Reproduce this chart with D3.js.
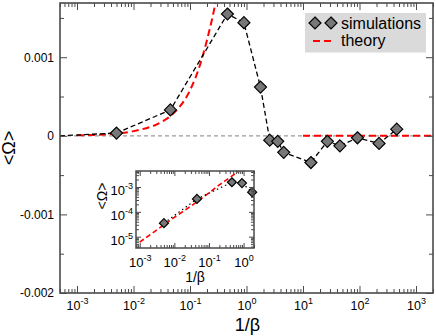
<!DOCTYPE html>
<html>
<head>
<meta charset="utf-8">
<script src="https://cdn.jsdelivr.net/npm/d3@7"></script>
<style>
  body { margin: 0; background: #fff; }
  svg { display: block; font-family: "Liberation Sans", Arial, sans-serif; }
</style>
</head>
<body>
<svg id="vis" width="436" height="336"></svg>
<script>
const width = 436;
const height = 336;

// simulation points: 1/beta and <Omega>
const simX = [0.005, 0.045, 0.46, 0.9, 1.77, 2.58, 3.57, 4.56, 13.8, 27, 45, 92, 222, 456];
const simY = [3.5e-5, 3.3e-4, 1.55e-3, 1.44e-3, 6.2e-4, -5.5e-5, -7e-5, -2.1e-4, -3.4e-4, -7e-5, -1.27e-4, -2.5e-5, -9.7e-5, 8.5e-5];
// the dashed sim curve starts at zero on the left edge
const simStartX = 5e-4;
const simStartY = 0;

// theory, low temperature branch and high temperature branch
const theoryX = [0.001, 0.003, 0.01, 0.03, 0.05, 0.1, 0.15, 0.2, 0.3, 0.5, 0.8];
const theoryY = [6e-6, 1.8e-5, 6e-5, 1.7e-4, 2.8e-4, 5.8e-4, 9e-4, 1.22e-3, 1.8e-3, 3e-3, 4.8e-3];
const theoryTailX = [10, 2000];
const theoryTailY = [0, 0];

// ticks
const xTicks = [1e-3, 1e-2, 1e-1, 1, 10, 100, 1000];
const yTicks = [-0.002, -0.001, 0, 0.001];
const yMinor = [-0.0015, -0.0005, 0.0005, 0.0015];
const insetXTicks = [1e-3, 1e-2, 1e-1, 1];
const insetYTicks = [1e-5, 1e-4, 1e-3];

const font = '"Liberation Sans", Arial, sans-serif';
const frameColor = "#4a4a4a";

const svg = d3.select("#vis");

const plot = { left: 60, right: 433, top: 3, bottom: 293 };
const inset = { left: 136, right: 254, top: 171, bottom: 248 };

const x = d3.scaleLog().domain([5e-4, 2e3]).range([plot.left, plot.right]);
const y = d3.scaleLinear().domain([-0.002, 0.00169]).range([plot.bottom, plot.top]);

const ix = d3.scaleLog().domain([7.8e-4, 2]).range([inset.left, inset.right]);
const iy = d3.scaleLog().domain([3.5e-6, 4.4e-3]).range([inset.bottom, inset.top]);

function logMinors(domain) {
  const out = [];
  for (let e = -7; e <= 4; e++) {
    for (let k = 2; k <= 9; k++) {
      const v = k * Math.pow(10, e);
      if (v >= domain[0] && v <= domain[1]) out.push(v);
    }
  }
  return out;
}

function addAxis(axis, transform, size) {
  const g = svg.append("g")
    .attr("transform", transform)
    .call(axis)
    .attr("font-family", font)
    .attr("font-size", size || 12);
  g.select(".domain").remove();
  g.selectAll("line").attr("stroke", frameColor).attr("stroke-width", 1);
  g.selectAll("text").attr("fill", "#000");
  return g;
}

function powerLabels(g, supSize, supDy) {
  g.selectAll(".tick text").each(function(d) {
    const t = d3.select(this);
    t.text("10");
    t.append("tspan")
      .attr("dy", supDy)
      .attr("font-size", supSize)
      .text(Math.round(Math.log10(d)));
  });
}

// clip paths
const defs = svg.append("defs");
defs.append("clipPath").attr("id", "clipMain").append("rect")
  .attr("x", plot.left).attr("y", plot.top)
  .attr("width", plot.right - plot.left).attr("height", plot.bottom - plot.top);
defs.append("clipPath").attr("id", "clipInset").append("rect")
  .attr("x", inset.left).attr("y", inset.top)
  .attr("width", inset.right - inset.left).attr("height", inset.bottom - inset.top);

// ---- main plot ----
const main = svg.append("g").attr("clip-path", "url(#clipMain)");

main.append("line")
  .attr("x1", plot.left).attr("x2", plot.right)
  .attr("y1", y(0)).attr("y2", y(0))
  .attr("stroke", "#9a9a9a").attr("stroke-width", 1.2)
  .attr("stroke-dasharray", "4,3");

const theoryLine = d3.line().x(d => x(d[0])).y(d => y(d[1])).curve(d3.curveMonotoneX);
main.append("path")
  .datum(d3.zip(theoryX, theoryY))
  .attr("d", theoryLine)
  .attr("fill", "none").attr("stroke", "#f00").attr("stroke-width", 2)
  .attr("stroke-dasharray", "7,4");
main.append("path")
  .datum(d3.zip(theoryTailX, theoryTailY))
  .attr("d", theoryLine)
  .attr("fill", "none").attr("stroke", "#f00").attr("stroke-width", 2)
  .attr("stroke-dasharray", "7,4");

const simLine = d3.line().x(d => x(d[0])).y(d => y(d[1]));
main.append("path")
  .datum([[simStartX, simStartY]].concat(d3.zip(simX, simY)))
  .attr("d", simLine)
  .attr("fill", "none").attr("stroke", "#000").attr("stroke-width", 1.3)
  .attr("stroke-dasharray", "5,3");

function diamond(sel, r) {
  sel.attr("d", `M0,${-r}L${r},0L0,${r}L${-r},0Z`)
    .attr("fill", "#777").attr("stroke", "#000").attr("stroke-width", 1.2);
}

svg.append("g").selectAll("path")
  .data(d3.zip(simX, simY))
  .join("path")
  .attr("transform", d => `translate(${x(d[0])},${y(d[1])})`)
  .call(diamond, 6);

// main axes
const gxb = addAxis(d3.axisBottom(x).tickValues(xTicks).tickSizeInner(-7).tickSizeOuter(0)
  .tickPadding(8.5).tickFormat(() => "10"), `translate(0,${plot.bottom})`, 12.5);
powerLabels(gxb, 9, -6);
addAxis(d3.axisBottom(x).tickValues(logMinors(x.domain())).tickSizeInner(-4).tickSizeOuter(0)
  .tickFormat(""), `translate(0,${plot.bottom})`);
addAxis(d3.axisTop(x).tickValues(xTicks).tickSizeInner(-7).tickSizeOuter(0)
  .tickFormat(""), `translate(0,${plot.top})`);
addAxis(d3.axisTop(x).tickValues(logMinors(x.domain())).tickSizeInner(-4).tickSizeOuter(0)
  .tickFormat(""), `translate(0,${plot.top})`);

addAxis(d3.axisLeft(y).tickValues(yTicks).tickSizeInner(-7).tickSizeOuter(0).tickPadding(6)
  .tickFormat(d => d === 0 ? "0" : String(d)), `translate(${plot.left},0)`);
addAxis(d3.axisLeft(y).tickValues(yMinor).tickSizeInner(-4).tickSizeOuter(0)
  .tickFormat(""), `translate(${plot.left},0)`);
addAxis(d3.axisRight(y).tickValues(yTicks).tickSizeInner(-7).tickSizeOuter(0)
  .tickFormat(""), `translate(${plot.right},0)`);
addAxis(d3.axisRight(y).tickValues(yMinor).tickSizeInner(-4).tickSizeOuter(0)
  .tickFormat(""), `translate(${plot.right},0)`);

svg.append("rect")
  .attr("x", plot.left).attr("y", plot.top)
  .attr("width", plot.right - plot.left).attr("height", plot.bottom - plot.top)
  .attr("fill", "none").attr("stroke", frameColor).attr("stroke-width", 1.6);

svg.append("text")
  .attr("x", (plot.left + plot.right) / 2 + 1).attr("y", 331)
  .attr("text-anchor", "middle").attr("font-size", 18)
  .text("1/β");

svg.append("text")
  .attr("transform", "translate(15,148) rotate(-90)")
  .attr("text-anchor", "middle").attr("font-size", 18)
  .text("<Ω>");

// ---- legend ----
const legend = svg.append("g");
legend.append("rect")
  .attr("x", 305).attr("y", 13).attr("width", 121).attr("height", 39.5)
  .attr("fill", "#dadada");
legend.selectAll("path.sym")
  .data([315, 331])
  .join("path")
  .attr("class", "sym")
  .attr("transform", d => `translate(${d},23)`)
  .call(diamond, 6);
legend.append("line")
  .attr("x1", 313).attr("x2", 333).attr("y1", 41).attr("y2", 41)
  .attr("stroke", "#f00").attr("stroke-width", 2).attr("stroke-dasharray", "7,4");
legend.append("text").attr("x", 341).attr("y", 29).attr("font-size", 16).text("simulations");
legend.append("text").attr("x", 341).attr("y", 46).attr("font-size", 16).text("theory");

// ---- inset ----
svg.append("rect")
  .attr("x", inset.left).attr("y", inset.top)
  .attr("width", inset.right - inset.left).attr("height", inset.bottom - inset.top)
  .attr("fill", "#fff");

const ins = svg.append("g").attr("clip-path", "url(#clipInset)");
const insetTheory = d3.line().x(d => ix(d[0])).y(d => iy(d[1]));
ins.append("path")
  .datum(d3.zip(theoryX, theoryY))
  .attr("d", insetTheory)
  .attr("fill", "none").attr("stroke", "#f00").attr("stroke-width", 1.6)
  .attr("stroke-dasharray", "5,3");

const insetPts = d3.zip(simX, simY).filter(d => d[1] > 0 && d[0] <= ix.domain()[1]);
ins.append("path")
  .datum(insetPts)
  .attr("d", insetTheory)
  .attr("fill", "none").attr("stroke", "#000").attr("stroke-width", 1.2)
  .attr("stroke-dasharray", "1.5,3");

svg.append("g").selectAll("path")
  .data(insetPts)
  .join("path")
  .attr("transform", d => `translate(${ix(d[0])},${iy(d[1])})`)
  .call(diamond, 4.5);

const ixb = addAxis(d3.axisBottom(ix).tickValues(insetXTicks).tickSizeInner(-5).tickSizeOuter(0)
  .tickPadding(9.5).tickFormat(() => "10"), `translate(0,${inset.bottom})`, 13);
powerLabels(ixb, 9, -6);
addAxis(d3.axisBottom(ix).tickValues(logMinors(ix.domain())).tickSizeInner(-3).tickSizeOuter(0)
  .tickFormat(""), `translate(0,${inset.bottom})`);
addAxis(d3.axisTop(ix).tickValues(insetXTicks).tickSizeInner(-5).tickSizeOuter(0)
  .tickFormat(""), `translate(0,${inset.top})`);
addAxis(d3.axisTop(ix).tickValues(logMinors(ix.domain())).tickSizeInner(-3).tickSizeOuter(0)
  .tickFormat(""), `translate(0,${inset.top})`);

const iyl = addAxis(d3.axisLeft(iy).tickValues(insetYTicks).tickSizeInner(-5).tickSizeOuter(0)
  .tickPadding(3).tickFormat(() => "10"), `translate(${inset.left},0)`, 13);
powerLabels(iyl, 9, -6);
iyl.selectAll(".tick text").attr("dy", "0.6em");
addAxis(d3.axisLeft(iy).tickValues(logMinors(iy.domain())).tickSizeInner(-3).tickSizeOuter(0)
  .tickFormat(""), `translate(${inset.left},0)`);
addAxis(d3.axisRight(iy).tickValues(insetYTicks).tickSizeInner(-5).tickSizeOuter(0)
  .tickFormat(""), `translate(${inset.right},0)`);
addAxis(d3.axisRight(iy).tickValues(logMinors(iy.domain())).tickSizeInner(-3).tickSizeOuter(0)
  .tickFormat(""), `translate(${inset.right},0)`);

svg.append("rect")
  .attr("x", inset.left).attr("y", inset.top)
  .attr("width", inset.right - inset.left).attr("height", inset.bottom - inset.top)
  .attr("fill", "none").attr("stroke", frameColor).attr("stroke-width", 1.5);

svg.append("text")
  .attr("x", (inset.left + inset.right) / 2).attr("y", 282)
  .attr("text-anchor", "middle").attr("font-size", 14)
  .text("1/β");

svg.append("text")
  .attr("transform", "translate(107,196) rotate(-90)")
  .attr("text-anchor", "middle").attr("font-size", 14)
  .text("<Ω>");
</script>
</body>
</html>
